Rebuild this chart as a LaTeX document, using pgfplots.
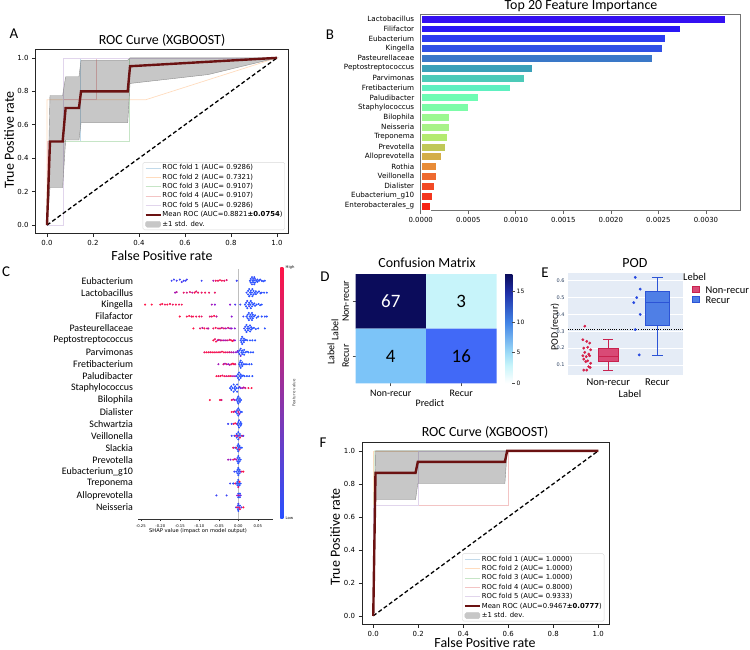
\documentclass[border=0pt]{standalone}
\usepackage{fontspec}
\setmainfont{Carlito}
\newfontfamily\djv{DejaVu Sans}
\usepackage{pgfplots}
\pgfplotsset{compat=1.18}

\definecolor{fa}{HTML}{C2DAEA}
\definecolor{fb}{HTML}{FFDCBE}
\definecolor{fc}{HTML}{C6E5C6}
\definecolor{fd}{HTML}{F3C4C4}
\definecolor{fe}{HTML}{E1D5EC}
\definecolor{meanc}{HTML}{6B1212}
\definecolor{b1}{HTML}{3410F2}
\definecolor{b2}{HTML}{2A18F5}
\definecolor{b3}{HTML}{2C3CF0}
\definecolor{b4}{HTML}{3050E5}
\definecolor{b5}{HTML}{3A78C8}
\definecolor{b6}{HTML}{3AA0B8}
\definecolor{b7}{HTML}{4CCAB8}
\definecolor{b8}{HTML}{5EF0C0}
\definecolor{b9}{HTML}{6EFCB4}
\definecolor{b10}{HTML}{7CFCA8}
\definecolor{b11}{HTML}{9CF890}
\definecolor{b12}{HTML}{A8F288}
\definecolor{b13}{HTML}{B4EA70}
\definecolor{b14}{HTML}{C0C858}
\definecolor{b15}{HTML}{D4AE48}
\definecolor{b16}{HTML}{E88C38}
\definecolor{b17}{HTML}{EE6A30}
\definecolor{b18}{HTML}{F24A26}
\definecolor{b19}{HTML}{F4361E}
\definecolor{b20}{HTML}{F62414}
\definecolor{shlo}{RGB}{40,80,255}
\definecolor{shmid}{RGB}{140,20,210}
\definecolor{shhi}{RGB}{255,20,70}
\definecolor{dA}{HTML}{0B0C5B}
\definecolor{dB}{HTML}{C7F4FA}
\definecolor{dC}{HTML}{7CC4F8}
\definecolor{dD}{HTML}{4169F7}
\definecolor{dC3}{HTML}{C7F4FA}
\definecolor{dC5}{HTML}{9EDCF7}
\definecolor{dC10}{HTML}{4284E6}
\definecolor{dC15}{HTML}{1E2EA6}
\definecolor{dC18}{HTML}{0B0C5B}
\definecolor{plotbg}{HTML}{E5ECF6}
\definecolor{plotfont}{HTML}{2A3F5F}
\definecolor{nrfill}{HTML}{D94A76}
\definecolor{nrline}{HTML}{C8224E}
\definecolor{nrpt}{HTML}{D62049}
\definecolor{rcfill}{HTML}{4F7FE6}
\definecolor{rcline}{HTML}{2C54D6}
\definecolor{rcpt}{HTML}{2548E0}

\pgfdeclareverticalshading{cmD}{100bp}{color(0bp)=(white); color(25bp)=(white); color(33.3bp)=(dC3); color(38.9bp)=(dC5); color(52.8bp)=(dC10); color(66.7bp)=(dC15); color(75bp)=(dC18); color(100bp)=(dC18)}

\pgfplotsset{
 rocax/.style={scale only axis, xmin=-0.05,xmax=1.05,ymin=-0.05,ymax=1.05,
  xtick={0,0.2,0.4,0.6,0.8,1}, ytick={0,0.2,0.4,0.6,0.8,1},
  tick pos=left, tick align=outside, major tick length=3.5bp,
  tick style={black!85, line width=0.7bp},
  axis line style={black!85, line width=0.8bp},
  /pgf/number format/assume math mode=true,
  tick label style={font=\djv\fontsize{7}{8}\selectfont},
  xticklabel style={/pgf/number format/.cd,fixed,fixed zerofill,precision=1},
  yticklabel style={/pgf/number format/.cd,fixed,fixed zerofill,precision=1},
  legend cell align=left,
  legend image code/.code={\draw[##1] (0bp,0bp) -- (15bp,0bp);},
  legend style={font=\djv\fontsize{6.9}{8}\selectfont, draw=black!15, rounded corners=1.5bp, inner sep=1.5bp, row sep=1.3bp, nodes={inner sep=0.7bp, text height=5.2bp, text depth=1.5bp}},
 },
}

\begin{document}
\begin{tikzpicture}
\path[use as bounding box] (0,0) rectangle (750bp,-650bp);

% ---------------- Panel A ----------------
\begin{axis}[rocax, at={(35.5bp,-49.5bp)}, anchor=north west, width=253bp, height=184bp,
 legend style={at={(0.986,0.019)}, anchor=south east}]
\addplot[fa, line width=0.7bp] coordinates {(0,0)(0,0.5)(0.143,0.5)(0.143,1)(1,1)};
\addlegendentry{ROC fold 1 (AUC= 0.9286)}
\addplot[fb, line width=0.7bp] coordinates {(0,0)(0,0.75)(0.43,0.75)(1,1)};
\addlegendentry{ROC fold 2 (AUC= 0.7321)}
\addplot[fc, line width=0.7bp] coordinates {(0,0)(0,0.5)(0.357,0.5)(0.357,1)(1,1)};
\addlegendentry{ROC fold 3 (AUC= 0.9107)}
\addplot[fd, line width=0.7bp] coordinates {(0,0)(0,0.5)(0.071,0.5)(0.071,0.75)(0.214,0.75)(0.214,1)(1,1)};
\addlegendentry{ROC fold 4 (AUC= 0.9107)}
\addplot[fe, line width=0.7bp] coordinates {(0,0)(0.071,0)(0.071,1)(1,1)};
\addlegendentry{ROC fold 5 (AUC= 0.9286)}
\addplot[black, line width=1.3bp, dash pattern=on 4bp off 2.5bp, forget plot] coordinates {(0,0)(1,1)};
\addplot[fill=black, fill opacity=0.22, draw=black!45, line width=0.4bp, forget plot] coordinates {
 (0,0)(0.013,0.775)(0.068,0.775)(0.081,0.887)(0.139,0.887)(0.148,0.986)(0.351,0.986)(0.361,1)(1,1)
 (0.7,0.9)(0.361,0.847)(0.351,0.612)(0.148,0.612)(0.139,0.509)(0.081,0.509)(0.068,0.225)(0.013,0.225)(0,0)};
\addplot[meanc, line width=2.4bp] coordinates {(0,0)(0.013,0.5)(0.068,0.5)(0.081,0.7)(0.139,0.7)(0.148,0.8)(0.351,0.8)(0.361,0.95)(1,1)};
\addlegendentry{Mean ROC (AUC=0.8821{\bfseries ±0.0754})}
\addlegendimage{legend image code/.code={\fill[black!22] (0bp,-3bp) rectangle (15bp,3bp);}}
\addlegendentry{±1 std. dev.}
\end{axis}

% ---------------- Panel B ----------------
\begin{axis}[at={(420.7bp,-14bp)}, anchor=north west, scale only axis, width=319.3bp, height=196.7bp,
 xbar, bar width=0.8, bar shift=0pt,
 xmin=0, xmax=0.003358, ymin=-0.5, ymax=19.5, y dir=reverse,
 ytick={0,1,2,3,4,5,6,7,8,9,10,11,12,13,14,15,16,17,18,19},
 yticklabels={Lactobacillus,Filifactor,Eubacterium,Kingella,Pasteurellaceae,Peptostreptococcus,Parvimonas,Fretibacterium,Paludibacter,Staphylococcus,Bilophila,Neisseria,Treponema,Prevotella,Alloprevotella,Rothia,Veillonella,Dialister,Eubacterium\_g10,Enterobacterales\_g},
 xtick={0,0.0005,0.001,0.0015,0.002,0.0025,0.003}, scaled x ticks=false,
 /pgf/number format/assume math mode=true,
 xticklabel style={/pgf/number format/.cd,fixed,fixed zerofill,precision=4},
 tick label style={font=\djv\fontsize{7}{8}\selectfont},
 yticklabel style={font=\djv\fontsize{7.2}{8}\selectfont},
 ytick style={draw=none}, xtick pos=bottom, tick align=outside, major tick length=3bp,
 xtick style={black!60, line width=0.6bp},
 axis line style={black!55, line width=0.7bp}]
\addplot[fill=b1, draw=white, line width=0.4bp] coordinates {(0.0032,0)};
\addplot[fill=b2, draw=white, line width=0.4bp] coordinates {(0.002726,1)};
\addplot[fill=b3, draw=white, line width=0.4bp] coordinates {(0.002572,2)};
\addplot[fill=b4, draw=white, line width=0.4bp] coordinates {(0.002544,3)};
\addplot[fill=b5, draw=white, line width=0.4bp] coordinates {(0.002435,4)};
\addplot[fill=b6, draw=white, line width=0.4bp] coordinates {(0.001172,5)};
\addplot[fill=b7, draw=white, line width=0.4bp] coordinates {(0.001084,6)};
\addplot[fill=b8, draw=white, line width=0.4bp] coordinates {(0.000944,7)};
\addplot[fill=b9, draw=white, line width=0.4bp] coordinates {(0.0006,8)};
\addplot[fill=b10, draw=white, line width=0.4bp] coordinates {(0.000498,9)};
\addplot[fill=b11, draw=white, line width=0.4bp] coordinates {(0.000295,10)};
\addplot[fill=b12, draw=white, line width=0.4bp] coordinates {(0.000295,11)};
\addplot[fill=b13, draw=white, line width=0.4bp] coordinates {(0.00028,12)};
\addplot[fill=b14, draw=white, line width=0.4bp] coordinates {(0.00026,13)};
\addplot[fill=b15, draw=white, line width=0.4bp] coordinates {(0.000218,14)};
\addplot[fill=b16, draw=white, line width=0.4bp] coordinates {(0.000168,15)};
\addplot[fill=b17, draw=white, line width=0.4bp] coordinates {(0.000165,16)};
\addplot[fill=b18, draw=white, line width=0.4bp] coordinates {(0.000144,17)};
\addplot[fill=b19, draw=white, line width=0.4bp] coordinates {(0.000123,18)};
\addplot[fill=b20, draw=white, line width=0.4bp] coordinates {(0.000098,19)};
\end{axis}

% ---------------- Panel C ----------------
\begin{axis}[at={(138.3bp,-268.8bp)}, anchor=north west, scale only axis, width=135bp, height=250.5bp,
 xmin=-0.2564, xmax=0.0897, ymin=-1, ymax=20,
 axis x line*=bottom, axis y line*=left, y axis line style={draw=none},
 x axis line style={black!80, line width=0.6bp},
 ytick={0,1,2,3,4,5,6,7,8,9,10,11,12,13,14,15,16,17,18,19},
 yticklabels={Neisseria,Alloprevotella,Treponema,Eubacterium\_g10,Prevotella,Slackia,Veillonella,Schwartzia,Dialister,Bilophila,Staphylococcus,Paludibacter,Fretibacterium,Parvimonas,Peptostreptococcus,Pasteurellaceae,Filafactor,Kingella,Lactobacillus,Eubacterium},
 ytick style={draw=none},
 xtick={-0.25,-0.2,-0.15,-0.1,-0.05,0,0.05},
 /pgf/number format/assume math mode=true,
 xticklabel style={font=\djv\fontsize{3.8}{4.5}\selectfont, /pgf/number format/.cd,fixed,fixed zerofill,precision=2},
 yticklabel style={font=\fontsize{10}{12}\selectfont},
 xtick style={black!80, line width=0.4bp}, tick align=outside, major tick length=1.8bp,
 colormap={shap}{rgb255=(40,80,255) rgb255=(140,20,210) rgb255=(255,20,70)},
 point meta min=0, point meta max=1]
\addplot[black!25, line width=1bp, forget plot] coordinates {(0,-1)(0,20)};
\addplot[scatter, only marks, mark=*, mark size=0.8bp, scatter src=explicit,
 scatter/use mapped color={draw=mapped color, fill=mapped color}] table[meta=c] {
x y c
-0.171 19 0.1
-0.165 19.1 0.1
-0.158 19 0.15
-0.15 19.1 0.1
-0.145 18.9 0.2
-0.14 19 0.1
-0.135 19 0.1
-0.132 19.1 0.15
-0.094 19 0.1
-0.064 19 0.6
-0.058 19 0.95
-0.052 19 0.9
-0.047 19.05 1
-0.042 19 0.95
-0.036 19 0.9
-0.03 19.05 0.85
-0.004 19 0.1
0.03 19 0
0.032 19.15 0
0.032 18.85 0
0.035 19.3 0.05
0.035 18.7 0.05
0.036 19 0
0.038 19.15 0
0.038 18.85 0
0.04 19 0
0.041 19.3 0
0.041 18.7 0
0.043 19.15 0.1
0.043 18.85 0
0.046 19 0
0.049 19.1 0
0.049 18.9 0
0.053 19 0
0.056 19.1 0
0.06 19 0.05
0.064 18.95 0
0.068 19 0
-0.162 18 0.6
-0.158 18.05 0.7
-0.14 18 0.9
-0.132 18 0.8
-0.124 18.05 0.9
-0.118 18 0.7
-0.112 18 1
-0.108 18.1 0.85
-0.103 18 0.9
-0.094 18 0.9
-0.085 18 0.95
-0.075 18 0.9
-0.06 18 0.9
0.021 18 0.05
0.025 18.15 0
0.025 17.85 0
0.028 18.3 0
0.028 17.7 0
0.03 18 0
0.032 18.15 0
0.032 17.85 0
0.035 18 0
0.036 18.3 0
0.036 17.7 0
0.039 18.15 0
0.039 17.85 0
0.042 18 0
0.045 18.12 0
0.045 17.88 0
0.049 18 0
0.053 18.1 0
0.057 17.95 0
0.06 18 0.05
0.066 18 0
0.073 18 0
-0.239 17 1
-0.222 17 1
-0.2 17 0.95
-0.195 17.05 1
-0.188 17 0.9
-0.182 17 1
-0.175 17.05 0.95
-0.168 17 0.9
-0.16 17 1
-0.152 17 0.9
-0.145 17 0.95
-0.068 17 0.6
-0.06 17 0.5
-0.021 17 0.5
-0.008 17 0.2
0.005 17 0.1
0.017 17 0
0.02 17.15 0
0.02 16.85 0
0.023 17.3 0.1
0.023 16.7 0
0.026 17 0
0.028 17.15 0
0.028 16.85 0.2
0.031 17 0
0.032 17.3 0
0.032 16.7 0
0.035 17.15 0
0.035 16.85 0
0.038 17 0
0.041 17.1 0
0.043 16.9 0
0.047 17 0
0.052 17.05 0
0.056 16.95 0
0.06 17 0
-0.15 16 1
-0.132 16 0.95
-0.126 16.05 1
-0.12 16 0.9
-0.116 16 1
-0.108 16 0.9
-0.1 16 0.95
-0.094 16 0.9
-0.073 16 0.85
-0.068 16 0.9
-0.062 16.05 1
-0.056 16 0.7
-0.017 16 0.5
0.013 16 0.1
0.021 16 0
0.024 16.15 0
0.024 15.85 0
0.027 16.3 0
0.027 15.7 0
0.029 16 0
0.031 16.15 0
0.031 15.85 0
0.034 16 0
0.035 16.3 0
0.035 15.7 0
0.037 16.15 0
0.037 15.85 0
0.04 16 0
0.043 16.1 0
0.047 15.9 0
0.051 16 0
0.06 16 0
0.068 16 0.05
0.073 16 0
-0.115 15 1
-0.098 15 0.9
-0.092 15.05 0.7
-0.087 15 1
-0.08 15 0.8
-0.077 15 0.7
-0.064 15 0.9
-0.058 15.05 1
-0.052 15 0.8
-0.047 15 0.95
-0.042 15.05 0.7
-0.037 15 0.9
-0.032 15 0.6
-0.026 15.05 0.8
-0.021 15 0.6
-0.017 15 0.5
-0.009 15 0.5
0.015 15 0.1
0.018 15.15 0
0.018 14.85 0
0.021 15.3 0
0.021 14.7 0
0.023 15 0
0.025 15.15 0
0.025 14.85 0
0.028 15 0
0.03 15.25 0
0.03 14.75 0
0.033 15.1 0
0.033 14.9 0
0.036 15 0
0.04 15.05 0
0.045 14.95 0
0.051 15 0
0.068 15 0
-0.064 14 1
-0.06 14.1 0.9
-0.057 13.9 1
-0.053 14 0.6
-0.05 14.05 0.9
-0.046 14 0.7
-0.042 14 0.8
-0.037 14 0.6
-0.032 14 0.7
-0.027 14 0.8
-0.022 14.05 0.9
-0.018 14 1
-0.015 13.95 1
-0.012 14 0.9
-0.009 14 0.5
0.006 14 0
0.008 14.15 0
0.008 13.85 0
0.01 14.3 0
0.01 13.7 0
0.012 14 0
0.014 14.15 0
0.014 13.85 0
0.016 14 0
0.019 14.05 0
0.023 14 0
0.03 14 0
0.036 14 0
0.043 14 0
-0.087 13 0.9
-0.082 13 1
-0.077 13 0.95
-0.072 13 0.9
-0.067 13 1
-0.062 13 0.95
-0.057 13 0.9
-0.052 13 1
-0.047 13 0.9
-0.042 13.05 0.95
-0.037 13 1
-0.032 13 0.85
-0.027 13 0.9
-0.022 13 0.8
-0.017 13 0.7
-0.012 13 0.6
-0.006 13 0.5
-0.002 13.1 0.4
0.0 13 0.1
0.003 13.15 0
0.003 12.85 0
0.006 13.3 0
0.006 12.7 0.3
0.008 13 0
0.01 13.15 0
0.01 12.85 0
0.013 13 0
0.015 13.2 0
0.015 12.8 0
0.018 13 0
0.022 13.05 0
0.026 13 0
0.032 13 0
0.038 13 0
-0.051 12 0.6
-0.038 12 0.8
-0.034 12.05 0.6
-0.03 12 0.9
-0.026 12 0.5
-0.022 11.95 0.7
-0.018 12 0.9
-0.014 12.05 1
-0.011 12 1
-0.008 12 0.8
0.002 12 0
0.004 12.15 0
0.004 11.85 0
0.006 12.3 0
0.006 11.7 0
0.008 12 0
0.01 12.15 0
0.01 11.85 0
0.013 12 0
0.017 12 0
0.022 12 0
0.028 12 0
0.034 12 0
-0.056 11 1
-0.051 11 0.9
-0.046 11 1
-0.041 11.05 0.9
-0.036 11 1
-0.031 11 0.8
-0.026 11 0.9
-0.021 11 1
-0.016 11 0.7
-0.011 11 0.6
-0.006 11 0.5
-0.004 11 0
-0.001 11.15 0
-0.001 10.85 0
0.002 11.3 0
0.002 10.7 0
0.004 11 0
0.006 11.15 0
0.006 10.85 0
0.009 11 0
0.012 11.05 0
0.016 11 0
0.022 11 0
0.028 11 0
0.036 11 0
-0.021 10 0
-0.018 10.15 0
-0.018 9.85 0
-0.015 10 0
-0.012 10.3 0
-0.012 9.7 0
-0.01 10 0
-0.008 10.15 0
-0.008 9.85 0
-0.005 10 0
-0.003 10.3 0
-0.003 9.7 0
0.0 10 0
0.003 10.1 0.2
0.006 10 0.4
0.01 10 0.6
0.014 10.05 0.7
0.018 10 0.8
0.026 10 1
0.034 10 1
-0.073 9 1
-0.047 9 1
-0.043 9 0.8
-0.017 9 0.9
-0.013 9.05 0.7
-0.009 9 0.6
-0.004 9 0
-0.002 9.15 0
-0.002 8.85 0
0.0 9.3 0
0.0 8.7 0
0.002 9 0
0.004 9.15 0
0.004 8.85 0
0.007 9 0
-0.017 8 1
-0.012 8 0.9
-0.009 8.05 0.7
-0.006 8 0
-0.003 8.15 0.1
-0.003 7.85 0
0.0 8.3 0
0.0 7.7 0
0.0 8 0.8
0.003 8.15 0
0.003 7.85 0.5
0.006 8 0
0.009 8 0
-0.026 7 0.1
-0.017 7 0.1
-0.012 7 0.9
-0.008 7.05 1
-0.004 7 0.7
-0.002 7 0
0.0 7.15 0
0.0 6.85 0
0.002 7.3 0
0.002 6.7 0
0.004 7 0
0.006 7.15 0
0.006 6.85 0
0.008 7 0
-0.017 6 0.1
-0.01 6 0.1
-0.006 6 0.9
-0.004 6.15 0
-0.004 5.85 0
-0.002 6 0.6
0.0 6.3 0
0.0 5.7 0
0.002 6 0
0.004 6.15 0
0.004 5.85 1
0.007 6 0
0.01 6 0.9
0.013 6 0.2
-0.013 5 0.9
-0.008 5 0.1
-0.005 5 1
-0.002 5.15 0
-0.002 4.85 0
0.0 5.3 0
0.0 4.7 0
0.001 5 0
0.003 5.15 0
0.003 4.85 0.8
0.006 5 0
0.009 5 0
-0.026 4 0.6
-0.02 4 0.5
-0.013 4 0.9
-0.009 4.05 0.7
-0.005 4 0.6
-0.002 4.15 0
-0.002 3.85 0
0.0 4.3 0
0.0 3.7 0
0.001 4 0
0.003 4.15 0
0.003 3.85 0
0.006 4 0
-0.01 3 0.1
-0.005 3 0
-0.002 3.15 0
-0.002 2.85 0
0.0 3.3 0
0.0 2.7 0
0.001 3 0
0.003 3.15 0
0.003 2.85 0
0.006 3 0.2
0.009 3 0.9
0.013 3 1
-0.021 2 0.1
-0.013 2 0
-0.008 2 0.9
-0.004 2 0
-0.002 2.15 0
-0.002 1.85 0
0.0 2.3 0
0.0 1.7 0.8
0.001 2 0
0.003 2.15 1
0.003 1.85 0
0.006 2 0
-0.056 1 0.1
-0.03 1 0.1
-0.003 1 0.5
0.0 1.15 0
0.0 0.85 0
0.002 1 0.8
0.004 1.15 0
0.004 0.85 0
0.006 1 0.3
-0.006 0 0.1
-0.003 0 0.9
-0.001 0.15 0
-0.001 -0.15 0
0.0 0.3 0.1
0.0 -0.3 0
0.002 0 0.8
0.004 0.15 0
0.004 -0.15 0.9
0.008 0 0.2
0.013 0 1
};
\end{axis}

% ---------------- Panel D ----------------
\begin{axis}[at={(355.5bp,-274bp)}, anchor=north west, scale only axis, width=141bp, height=109.3bp,
 xmin=0, xmax=2, ymin=0, ymax=2, y dir=reverse,
 axis line style={draw=none},
 xtick={0.5,1.5}, xticklabels={Non-recur,Recur},
 ytick={0.5,1.5}, yticklabels={Non-recur,Recur},
 yticklabel style={rotate=90, anchor=south},
 tick pos=left, tick align=outside, major tick length=3bp,
 tick style={black!70, line width=0.6bp},
 tick label style={font=\fontsize{10}{12}\selectfont}]
\addplot[fill=dA, draw=none] coordinates {(0,0)(1,0)(1,1)(0,1)(0,0)};
\addplot[fill=dB, draw=none] coordinates {(1,0)(2,0)(2,1)(1,1)(1,0)};
\addplot[fill=dC, draw=none] coordinates {(0,1)(1,1)(1,2)(0,2)(0,1)};
\addplot[fill=dD, draw=none] coordinates {(1,1)(2,1)(2,2)(1,2)(1,1)};
\node[text=white, font=\fontsize{19}{20}\selectfont] at (axis cs:0.5,0.5) {67};
\node[text=black, font=\fontsize{19}{20}\selectfont] at (axis cs:1.5,0.5) {3};
\node[text=black, font=\fontsize{19}{20}\selectfont] at (axis cs:0.5,1.5) {4};
\node[text=black, font=\fontsize{19}{20}\selectfont] at (axis cs:1.5,1.5) {16};
\end{axis}

% ---------------- Panel E ----------------
\begin{axis}[at={(568bp,-273bp)}, anchor=north west, scale only axis, width=115bp, height=102bp,
 xmin=-0.822, xmax=1.524, ymin=0.0407, ymax=0.6456,
 axis background/.style={fill=plotbg},
 axis line style={draw=none}, tick style={draw=none},
 ymajorgrids, grid style={white, line width=0.7bp},
 ytick={0.1,0.2,0.3,0.4,0.5,0.6}, xtick={0,1}, xticklabels={Non-recur,Recur},
 /pgf/number format/assume math mode=true,
 yticklabel style={font=\djv\fontsize{5}{6}\selectfont, text=plotfont, /pgf/number format/.cd,fixed,fixed zerofill,precision=1},
 xticklabel style={font=\fontsize{10.5}{12}\selectfont}]
\addplot[black, line width=0.9bp, dash pattern=on 0.9bp off 1.3bp] coordinates {(-0.822,0.31)(1.524,0.31)};
% Non-recur box
\addplot[draw=nrline, line width=0.8bp] coordinates {(0,0.197)(0,0.252)};
\addplot[draw=nrline, line width=0.8bp] coordinates {(0,0.124)(0,0.07)};
\addplot[draw=nrline, line width=0.8bp] coordinates {(-0.1,0.252)(0.1,0.252)};
\addplot[draw=nrline, line width=0.8bp] coordinates {(-0.1,0.07)(0.1,0.07)};
\addplot[draw=nrline, fill=nrfill, line width=0.8bp] coordinates {(-0.205,0.124)(0.205,0.124)(0.205,0.197)(-0.205,0.197)(-0.205,0.124)};
\addplot[draw=nrline, line width=0.9bp] coordinates {(-0.205,0.152)(0.205,0.152)};
% Recur box
\addplot[draw=rcline, line width=0.8bp] coordinates {(1,0.537)(1,0.62)};
\addplot[draw=rcline, line width=0.8bp] coordinates {(1,0.333)(1,0.159)};
\addplot[draw=rcline, line width=0.8bp] coordinates {(0.89,0.62)(1.11,0.62)};
\addplot[draw=rcline, line width=0.8bp] coordinates {(0.89,0.159)(1.11,0.159)};
\addplot[draw=rcline, fill=rcfill, line width=0.8bp] coordinates {(0.75,0.333)(1.25,0.333)(1.25,0.537)(0.75,0.537)(0.75,0.333)};
\addplot[draw=rcline, line width=0.9bp] coordinates {(0.75,0.471)(1.25,0.471)};
\addplot[only marks, mark=*, mark size=1.2bp, color=nrpt] coordinates {
(-0.48,0.33)(-0.52,0.25)(-0.44,0.24)(-0.38,0.23)(-0.5,0.20)(-0.42,0.205)(-0.36,0.19)(-0.48,0.175)(-0.4,0.165)(-0.52,0.155)(-0.45,0.15)(-0.38,0.155)(-0.5,0.135)(-0.42,0.125)(-0.46,0.12)(-0.36,0.11)(-0.4,0.09)(-0.5,0.07)(-0.44,0.07)(-0.37,0.085)};
\addplot[only marks, mark=*, mark size=1.2bp, color=rcpt] coordinates {
(0.55,0.62)(0.65,0.55)(0.58,0.50)(0.52,0.47)(0.65,0.40)(0.55,0.31)(0.63,0.16)};
\end{axis}

% ---------------- Panel F ----------------
\begin{axis}[rocax, at={(362bp,-442.6bp)}, anchor=north west, width=247.5bp, height=181.5bp,
 legend style={at={(0.979,0.015)}, anchor=south east}]
\addplot[fa, line width=0.7bp] coordinates {(0,0)(0,1)(1,1)};
\addlegendentry{ROC fold 1 (AUC= 1.0000)}
\addplot[fb, line width=0.7bp] coordinates {(0,0)(0,1)(1,1)};
\addlegendentry{ROC fold 2 (AUC= 1.0000)}
\addplot[fc, line width=0.7bp] coordinates {(0,0)(0.005,1)(1,1)};
\addlegendentry{ROC fold 3 (AUC= 1.0000)}
\addplot[fd, line width=0.7bp] coordinates {(0,0)(0,0.667)(0.6,0.667)(0.6,1)(1,1)};
\addlegendentry{ROC fold 4 (AUC= 0.8000)}
\addplot[fe, line width=0.7bp] coordinates {(0,0)(0,0.667)(0.2,0.667)(0.2,1)(1,1)};
\addlegendentry{ROC fold 5 (AUC= 0.9333)}
\addplot[black, line width=1.3bp, dash pattern=on 4bp off 2.5bp, forget plot] coordinates {(0,0)(1,1)};
\addplot[fill=black, fill opacity=0.22, draw=black!45, line width=0.4bp, forget plot] coordinates {
 (0,0)(0.01,1)(1,1)(0.595,1)(0.585,0.802)(0.198,0.802)(0.188,0.705)(0.01,0.705)(0,0)};
\addplot[meanc, line width=2.4bp] coordinates {(0,0)(0.01,0.867)(0.188,0.867)(0.198,0.933)(0.585,0.933)(0.595,1)(1,1)};
\addlegendentry{Mean ROC (AUC=0.9467{\bfseries ±0.0777})}
\addlegendimage{legend image code/.code={\fill[black!22] (0bp,-3bp) rectangle (15bp,3bp);}}
\addlegendentry{±1 std. dev.}
\end{axis}

% ---------------- Texts and colour bars ----------------
\begin{scope}[x=1bp,y=-1bp]
\def\ttl{\fontsize{14}{16}\selectfont}
\def\pl{\fontsize{15}{16}\selectfont}
% A
\node[font=\pl] at (14,34) {A};
\node[font=\ttl] at (162,40) {ROC Curve (XGBOOST)};
\node[font=\ttl] at (162,256) {False Positive rate};
\node[font=\ttl, rotate=90] at (9,140) {True Positive rate};
% B
\node[font=\pl] at (330,35) {B};
\node[font=\ttl, anchor=base] at (581,9.5) {Top 20 Feature Importance};
% C
\node[font=\pl] at (6,272) {C};
\node[font=\djv\fontsize{5.2}{6}\selectfont] at (198,531) {SHAP value (impact on model output)};
\shade[top color=shhi, middle color=shmid, bottom color=shlo] (280.3,267) rectangle (283.3,518.3);
\node[font=\djv\fontsize{3.8}{4.5}\selectfont, anchor=west, inner sep=0] at (285.5,267.5) {High};
\node[font=\djv\fontsize{3.8}{4.5}\selectfont, anchor=west, inner sep=0] at (285.5,518.5) {Low};
\node[font=\djv\fontsize{4}{5}\selectfont, rotate=90, text=black!75] at (294,393) {Feature value};
% D
\node[font=\pl] at (325,277) {D};
\node[font=\ttl] at (427,262.7) {Confusion Matrix};
\node[font=\fontsize{10}{12}\selectfont] at (430,403.5) {Predict};
\node[font=\fontsize{10}{12}\selectfont, rotate=90] at (335,329.5) {Label};
\node[font=\fontsize{10}{12}\selectfont, rotate=90] at (331,354) {Label};
\shade[shading=cmD] (505,383.3) rectangle (512.3,274);
\foreach \v/\yy in {0/383.3,5/352.7,10/322.1,15/291.5}{
  \draw[black!70, line width=0.5bp] (512.3,\yy) -- (515,\yy);
  \node[font=\djv\fontsize{6}{7}\selectfont, anchor=west, inner sep=0] at (516.5,\yy) {\v};
}
% E
\node[font=\pl] at (545,273) {E};
\node[font=\ttl] at (635,262.7) {POD};
\node[font=\fontsize{10}{12}\selectfont, rotate=90] at (555,327) {POD (recur)};
\node[font=\fontsize{10.5}{12}\selectfont] at (630,394) {Label};
\node[font=\fontsize{10.5}{12}\selectfont, anchor=west, inner sep=0] at (683,277) {Lebel};
\draw[nrline, fill=nrfill, line width=0.7bp] (692,286.7) rectangle (699,292.7);
\draw[rcline, fill=rcfill, line width=0.7bp] (692,296.7) rectangle (699,302.7);
\node[font=\fontsize{10.5}{12}\selectfont, anchor=west, inner sep=0] at (705.5,289.7) {Non-recur};
\node[font=\fontsize{10.5}{12}\selectfont, anchor=west, inner sep=0] at (705.5,300) {Recur};
% F
\node[font=\pl] at (323,443) {F};
\node[font=\ttl] at (485,432.7) {ROC Curve (XGBOOST)};
\node[font=\ttl] at (485,642.5) {False Positive rate};
\node[font=\ttl, rotate=90] at (335,537) {True Positive rate};
\end{scope}
\end{tikzpicture}
\end{document}
